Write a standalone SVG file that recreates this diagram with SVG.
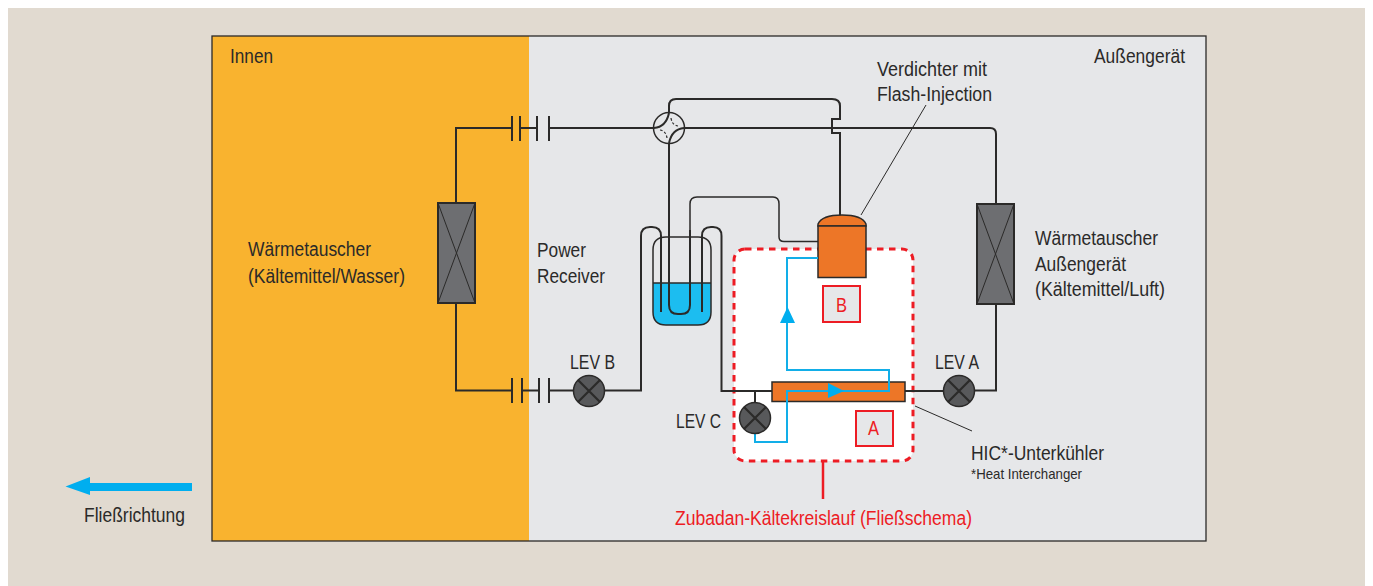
<svg xmlns="http://www.w3.org/2000/svg" width="1373" height="586" viewBox="0 0 1373 586">
<style>
text{font-family:"Liberation Sans",Arial,sans-serif;font-size:19.5px;fill:#2b2a29}
.r{fill:#ed1c24}
.big{font-size:21px}
.small{font-size:14.5px}
.p{fill:none;stroke:#2b2a29;stroke-width:2}
.t{fill:none;stroke:#2b2a29;stroke-width:1.5}
.th{fill:none;stroke:#2b2a29;stroke-width:1}
.b{fill:none;stroke:#12aee8;stroke-width:2}
.hx{fill:#6d6e71;stroke:#2b2a29;stroke-width:2}
.v{fill:#58595b;stroke:#2b2a29;stroke-width:1.5}
.x{stroke:#2b2a29;stroke-width:2.2}
.box{fill:#e6e7e9;stroke:#ed1c24;stroke-width:2}
.or{fill:#ed7627;stroke:#2b2a29;stroke-width:1.5}
</style>
<defs>
<g id="valve"><circle r="15.5" class="v"/><path class="x" d="M-11-11L11 11M-11 11L11-11"/></g>
</defs>
<rect width="1373" height="586" fill="#fff"/>
<rect x="8" y="8" width="1357" height="578" fill="#e1dad0"/>
<rect x="212" y="36" width="994" height="505" fill="#e6e7e9"/>
<rect x="212" y="36" width="317" height="505" fill="#f9b32f"/>
<rect x="212" y="36" width="994" height="505" fill="none" stroke="#2b2a29" stroke-width="1.3"/>
<g id="zubadan"><rect x="734" y="249" width="179" height="212" rx="11" fill="#fff" stroke="#ed1c24" stroke-width="3" stroke-dasharray="6.5 5.5"/>
<path d="M823 461V499" stroke="#ed1c24" stroke-width="2.5"/></g>
<g id="connectors">
<path class="p" d="M512 128H456V203M456 303V390.500H512"/>
<path class="p" d="M520 128H537M522 390.500H539M549 128H654M549 390.500H574"/>
<path class="p" d="M604 390.500H641V236Q641 227 650 227H652Q661 227 661 236V312"/>
<path class="p" d="M684 128H990Q996 128 996 134V204M996 304V390.500H974"/>
<path class="p" d="M669 143V305Q669 314 678 314H681Q690 314 690 305V256"/>
<path class="p" d="M669 113V106Q669 99 676 99H832Q840 99 840 106V119H832V133H840V216"/>
<path class="t" d="M690 256V204Q690 197 697 197H773Q779 197 779 204V237Q779 241.500 784 241.500H818"/>
<path class="p" d="M702 312V236Q702 227 711 227H713Q721.500 227 721.500 236V391H772M905 391H944M755 391V403"/>
<path class="th" d="M861 215L926 105M915 406L972 431"/>
</g>
<g id="coupling-top"><path class="p" d="M512 116V141M520 116V141M537 116V141M549 116V141"/></g>
<g id="coupling-bottom"><path class="p" d="M512 378V403M522 378V403M539 378V403M549 378V403"/></g>
<g id="four-way-valve"><circle cx="669" cy="128" r="15.500" fill="none" stroke="#2b2a29" stroke-width="1.500"/><path d="M654 128Q666 127 669 113M684 128Q672 129 669 143" fill="none" stroke="#2b2a29" stroke-width="2"/><path d="M660 130Q666 131 667 138M671 118Q672 125 678 126" fill="none" stroke="#2b2a29" stroke-width="1.200" stroke-dasharray="2.500 2"/></g>
<g id="heat-exchanger-left"><rect x="438" y="203" width="37" height="100" class="hx"/><path class="th" d="M438 203L475 303M475 203L438 303"/></g>
<g id="heat-exchanger-right"><rect x="977" y="204" width="37" height="100" class="hx"/><path class="th" d="M977 204L1014 304M1014 204L977 304"/></g>
<g id="receiver"><path d="M653 283H711V312Q711 325 698 325H666Q653 325 653 312Z" fill="#1cbdf0"/><path class="t" d="M653 283H711M653 283V250Q653 237 666 237H698Q711 237 711 250V312Q711 325 698 325H666Q653 325 653 312Z"/><path class="p" d="M661 312V236M702 312V236M669 230V305Q669 314 678 314H681Q690 314 690 305V230"/></g>
<g id="compressor"><path d="M818 226V224Q822 215 842 215Q862 215 866 224V226Z" class="or"/><rect x="818" y="226" width="48" height="51.500" class="or"/></g>
<g id="hic"><rect x="772" y="382" width="133" height="19.500" class="or"/></g>
<g id="flow"><path class="b" d="M818 258H787V370H889V391H787V442H755V432"/><path d="M787.500 307L795 323H780Z" fill="#00aeef"/><path d="M828 383L844 391L828 398Z" fill="#00aeef"/></g>
<use href="#valve" x="589" y="391"/><use href="#valve" x="959" y="391"/><use href="#valve" x="755" y="418"/>
<g id="box-b"><rect x="823" y="286" width="37" height="36" class="box"/><text class="r big" x="836" y="312" textLength="11" lengthAdjust="spacingAndGlyphs">B</text></g>
<g id="box-a"><rect x="856" y="411" width="37" height="35" class="box"/><text class="r big" x="868" y="435" textLength="11" lengthAdjust="spacingAndGlyphs">A</text></g>
<path id="flow-arrow" d="M192 483H90V477L65.500 486.500L90 495V491H192Z" fill="#00aeef"/>
<g id="labels">
<text x="230" y="63" textLength="43" lengthAdjust="spacingAndGlyphs">Innen</text>
<text x="1094" y="63" textLength="91" lengthAdjust="spacingAndGlyphs">Außengerät</text>
<text x="877" y="76" textLength="110" lengthAdjust="spacingAndGlyphs">Verdichter mit</text>
<text x="877" y="101" textLength="115" lengthAdjust="spacingAndGlyphs">Flash-Injection</text>
<text x="248" y="256" textLength="123" lengthAdjust="spacingAndGlyphs">Wärmetauscher</text>
<text x="248" y="283" textLength="157" lengthAdjust="spacingAndGlyphs">(Kältemittel/Wasser)</text>
<text x="537" y="257" textLength="49" lengthAdjust="spacingAndGlyphs">Power</text>
<text x="537" y="283" textLength="68" lengthAdjust="spacingAndGlyphs">Receiver</text>
<text x="1035" y="245" textLength="123" lengthAdjust="spacingAndGlyphs">Wärmetauscher</text>
<text x="1035" y="271" textLength="91" lengthAdjust="spacingAndGlyphs">Außengerät</text>
<text x="1035" y="296" textLength="130" lengthAdjust="spacingAndGlyphs">(Kältemittel/Luft)</text>
<text x="570" y="369" textLength="45" lengthAdjust="spacingAndGlyphs">LEV B</text>
<text x="935" y="369" textLength="44" lengthAdjust="spacingAndGlyphs">LEV A</text>
<text x="676" y="428" textLength="45" lengthAdjust="spacingAndGlyphs">LEV C</text>
<text x="971" y="460" textLength="133" lengthAdjust="spacingAndGlyphs">HIC*-Unterkühler</text>
<text class="small" x="971" y="479" textLength="111" lengthAdjust="spacingAndGlyphs">*Heat Interchanger</text>
<text class="r" x="675" y="525" textLength="297" lengthAdjust="spacingAndGlyphs">Zubadan-Kältekreislauf (Fließschema)</text>
<text x="84" y="522" textLength="101" lengthAdjust="spacingAndGlyphs">Fließrichtung</text>
</g>
</svg>
